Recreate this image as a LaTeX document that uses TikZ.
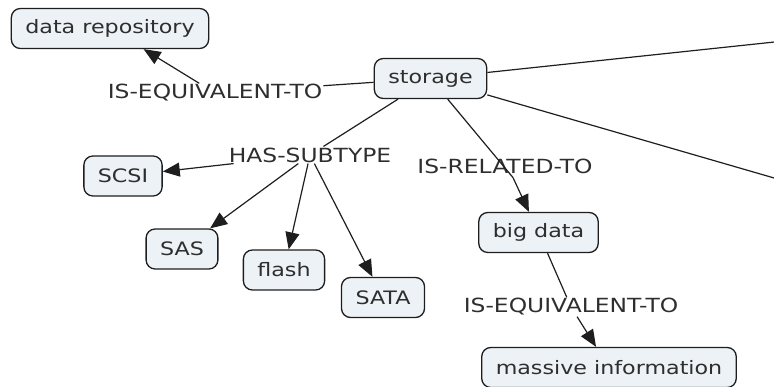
\documentclass[tikz,border=0pt]{standalone}
\usepackage{fontspec}
\setmainfont{DejaVu Sans}[FakeStretch=1.2]
\usetikzlibrary{arrows.meta}
\definecolor{ink}{HTML}{2E2E2E}
\definecolor{boxfill}{HTML}{ECF2F5}
\definecolor{edge}{HTML}{1E1E1E}
\tikzset{
  concept/.style={draw=edge, fill=boxfill, rounded corners=9pt, line width=1.3pt,
    minimum height=40pt, inner xsep=14pt, inner ysep=4pt, text=ink,
    font=\fontsize{18.5}{20}\selectfont},
  linkword/.style={inner sep=1pt, text=ink, font=\fontsize{19.5}{21}\selectfont},
  link/.style={draw=edge, line width=1.2pt},
  arrowlink/.style={link, -{Triangle[length=17pt,width=14pt]}}
}
\begin{document}
\begin{tikzpicture}[x=1pt,y=-1pt]
\useasboundingbox (0,0) rectangle (774,387);

% concepts
\node[concept] (repo)    at (110,28.5)  {data repository};
\node[concept] (storage) at (430.5,78.5) {storage};
\node[concept] (scsi)    at (123,176)   {SCSI};
\node[concept] (sas)     at (182,249)   {SAS};
\node[concept] (flash)   at (284,270)   {flash};
\node[concept] (sata)    at (383,297.5) {SATA};
\node[concept] (bigdata) at (538.5,232.5) {big data};
\node[concept] (massive) at (609,367.5) {massive information};

% linking phrases
\node[linkword] (eqA)  at (215,93)  {IS-EQUIVALENT-TO};
\node[linkword] (sub)  at (310,155) {HAS-SUBTYPE};
\node[linkword] (rel)  at (505,166) {IS-RELATED-TO};
\node[linkword] (eqB)  at (571,307) {IS-EQUIVALENT-TO};

% links leaving the visible area
\coordinate (outA) at (800,39.3);
\coordinate (outB) at (800,185.5);

% storage -- IS-EQUIVALENT-TO --> data repository
\draw[link] (storage) -- (eqA);
\draw[arrowlink] (eqA) -- (repo);

% storage -- HAS-SUBTYPE --> subtypes
\draw[link] (storage) -- (sub);
\draw[arrowlink] (sub) -- (scsi);
\draw[arrowlink] (sub) -- (sas);
\draw[arrowlink] (sub) -- (flash);
\draw[arrowlink] (sub) -- (sata);

% storage -- IS-RELATED-TO --> big data
\coordinate (relfoot) at ([xshift=8pt,yshift=-3pt]rel.south);
\draw[link] (storage) -- (relfoot);
\draw[arrowlink] (relfoot) -- (bigdata);

% big data -- IS-EQUIVALENT-TO --> massive information
\draw[link] (bigdata) -- (eqB);
\draw[arrowlink] (eqB) -- (massive);

% further links
\draw[link] (storage) -- (outA);
\draw[link] (storage) -- (outB);
\end{tikzpicture}
\end{document}
